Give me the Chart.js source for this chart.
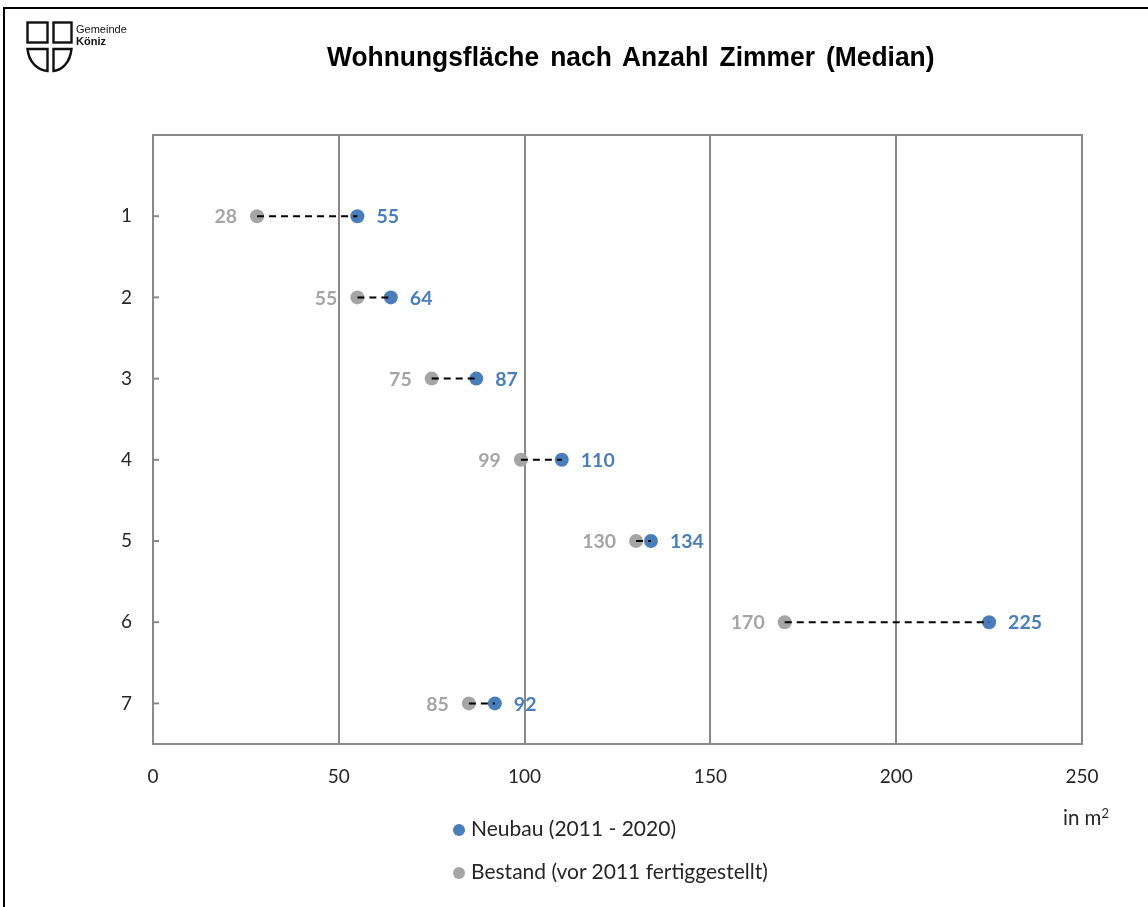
<!DOCTYPE html>
<html>
<head>
<meta charset="utf-8">
<script src="https://cdn.jsdelivr.net/npm/chart.js@4"></script>
<style>
  html, body { margin: 0; padding: 0; background: #fff; }
  #wrap { position: relative; width: 1148px; height: 907px; overflow: hidden; }
  #frame { position: absolute; left: 3px; top: 7px; width: 1300px; height: 1000px;
           border-top: 2px solid #000; border-left: 2px solid #000; }
  #chart { position: absolute; left: 0; top: 0; }
  #title { position: absolute; top: 41px; left: 631px; white-space: nowrap;
           font-family: "Liberation Sans", Arial, sans-serif;
           font-weight: bold; font-size: 28px; color: #000; word-spacing: 4px;
           transform-origin: 0 0; }
  #logo { position: absolute; left: 26px; top: 21px; }
  .leg { position: absolute; left: 453px; font-family: Lato, sans-serif; font-size: 21px;
         color: #262626; white-space: nowrap; }
  .leg i { display: inline-block; width: 12px; height: 12px; border-radius: 50%;
           margin-right: 6px; vertical-align: 0px; }
  #unit { position: absolute; left: 1063px; top: 805px; font-family: Lato, sans-serif;
          font-size: 20.5px; color: #262626; }
  #unit sup { font-size: 13px; vertical-align: 7px; }
</style>
</head>
<body>
<div id="wrap">
  <div id="frame"></div>
  <canvas id="chart" width="1148" height="907"></canvas>
  <svg id="logo" width="120" height="54" viewBox="0 0 120 54">
    <g fill="none" stroke="#111" stroke-width="2.4">
      <rect x="1.5" y="1.5" width="20" height="20"/>
      <rect x="27.5" y="1.5" width="18" height="20"/>
      <path d="M1.5 28 L21.5 28 L21.5 50 C12 49 3 42 1.5 28 Z"/>
      <path d="M27.5 28 L45.5 28 C44 42 36 49 27.5 50 Z"/>
    </g>
    <text x="50" y="12" font-family="Liberation Sans, Arial" font-size="11" fill="#111">Gemeinde</text>
    <text x="50" y="24" font-family="Liberation Sans, Arial" font-size="11" font-weight="bold" fill="#111">Köniz</text>
  </svg>
  <div id="title">Wohnungsfläche nach Anzahl Zimmer (Median)</div>
  <div class="leg" style="top:815px"><i style="background:#4a7ebb"></i>Neubau (2011 - 2020)</div>
  <div class="leg" style="top:858px"><i style="background:#a5a5a5"></i>Bestand (vor 2011 fertiggestellt)</div>
  <div id="unit">in m<sup>2</sup></div>
</div>
<script>
// === DATEN ===
const zimmer = [1, 2, 3, 4, 5, 6, 7];
const neubau = [55, 64, 87, 110, 134, 225, 92];
const bestand = [28, 55, 75, 99, 130, 170, 85];
const xTicks = [0, 50, 100, 150, 200, 250];

const blau = "#4a7ebb";
const grau = "#a5a5a5";

// Titel schmal machen (wie Arial Narrow), Breite ca. 608px, Mitte bei 631
const titel = document.getElementById("title");
const sx = 608 / titel.offsetWidth;
titel.style.transform = `translateX(-304px) scaleX(${sx})`;

// Verbindungslinien (gestrichelt) zwischen Bestand und Neubau
const linien = zimmer.map((z, i) => ({
    data: [{ x: bestand[i], y: z }, { x: neubau[i], y: z }],
    showLine: true,
    borderColor: "#000",
    borderWidth: 2,
    borderDash: [7, 5],
    pointRadius: 0,
    order: 0
}));

const datasets = [
    ...linien,
    {
        label: "Neubau (2011 - 2020)",
        data: zimmer.map((z, i) => ({ x: neubau[i], y: z })),
        backgroundColor: blau,
        borderWidth: 0,
        pointRadius: 7,
        order: 1,
        seite: "rechts"
    },
    {
        label: "Bestand (vor 2011 fertiggestellt)",
        data: zimmer.map((z, i) => ({ x: bestand[i], y: z })),
        backgroundColor: grau,
        borderWidth: 0,
        pointRadius: 7,
        order: 1,
        seite: "links"
    }
];

// === PLUGINS ===
const rahmen = {
    id: "rahmen",
    beforeDatasetsDraw(chart) {
        const { ctx, chartArea: a, scales } = chart;
        ctx.save();
        ctx.strokeStyle = "#898989";
        ctx.lineWidth = 2;
        ctx.strokeRect(a.left, a.top, a.right - a.left, a.bottom - a.top);
        // kleine Striche an der y-Achse
        zimmer.forEach(z => {
            const y = scales.y.getPixelForValue(z);
            ctx.beginPath();
            ctx.moveTo(a.left, y);
            ctx.lineTo(a.left + 6, y);
            ctx.stroke();
        });
        ctx.restore();
    }
};

const beschriftung = {
    id: "beschriftung",
    afterDatasetsDraw(chart) {
        const ctx = chart.ctx;
        ctx.save();
        ctx.font = "bold 19.5px Lato, sans-serif";
        ctx.textBaseline = "middle";
        chart.data.datasets.forEach((ds, di) => {
            if (!ds.seite) return;
            const meta = chart.getDatasetMeta(di);
            meta.data.forEach((pt, i) => {
                const wert = ds.data[i].x;
                if (ds.seite === "rechts") {
                    ctx.fillStyle = blau;
                    ctx.textAlign = "left";
                    ctx.fillText(wert, pt.x + 19, pt.y + 1);
                } else {
                    ctx.fillStyle = grau;
                    ctx.textAlign = "right";
                    ctx.fillText(wert, pt.x - 20, pt.y + 1);
                }
            });
        });
        ctx.restore();
    }
};

// === DIAGRAMM ===
new Chart(document.getElementById("chart"), {
    type: "scatter",
    data: { datasets },
    options: {
        responsive: false,
        animation: false,
        layout: { padding: { top: 135, right: 66, left: 0, bottom: 0 } },
        plugins: { legend: { display: false }, tooltip: { enabled: false } },
        scales: {
            x: {
                min: 0,
                max: 250,
                afterBuildTicks(scale) { scale.ticks = xTicks.map(v => ({ value: v })); },
                afterFit(scale) { scale.height = 163; },
                grid: { color: "#898989", lineWidth: 2, drawTicks: false },
                border: { display: false },
                ticks: { color: "#262626", font: { family: "Lato", size: 19 }, padding: 21 }
            },
            y: {
                min: 0,
                max: 7.5,
                reverse: true,
                afterBuildTicks(scale) { scale.ticks = zimmer.map(v => ({ value: v })); },
                afterFit(scale) { scale.width = 153; },
                grid: { display: false },
                border: { display: false },
                ticks: { color: "#262626", font: { family: "Lato", size: 19 }, padding: 13 }
            }
        }
    },
    plugins: [rahmen, beschriftung]
});
</script>
</body>
</html>
